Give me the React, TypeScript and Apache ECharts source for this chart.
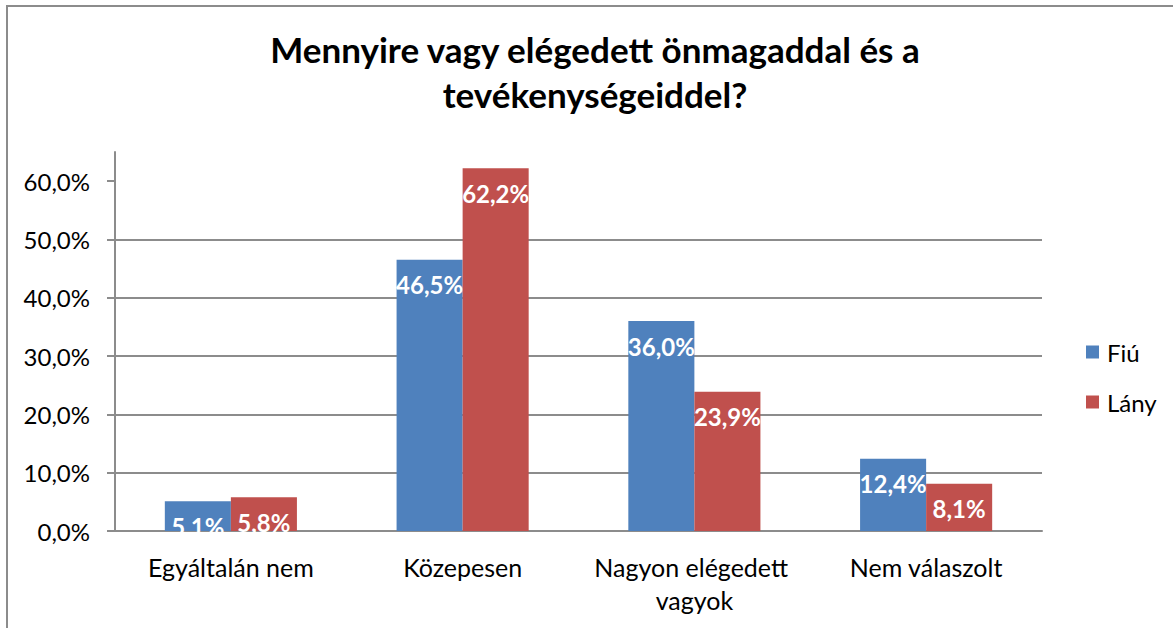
import React, { useEffect, useRef } from 'react';
import * as echarts from 'echarts';

const categories = ['Egyáltalán nem', 'Közepesen', 'Nagyon elégedett vagyok', 'Nem válaszolt'];
const seriesNames = ['Fiú', 'Lány'];
const fiuValues = [5.1, 46.5, 36.0, 12.4];
const lanyValues = [5.8, 62.2, 23.9, 8.1];
const yTicks = [0, 10, 20, 30, 40, 50, 60];
const titleText = 'Mennyire vagy elégedett önmagaddal és a\ntevékenységeiddel?';

const FONT = 'Lato, "Open Sans", sans-serif';
const GRAY = '#8c8c8c';
const fmt = (v: number) => v.toFixed(1).replace('.', ',') + '%';

export default function App() {
  const ref = useRef<HTMLDivElement>(null);
  useEffect(() => {
    if (!ref.current) return;
    const chart = echarts.init(ref.current, null, { renderer: 'svg' });
    const barLabel = {
      show: true,
      position: 'insideTop',
      distance: 13,
      color: '#ffffff',
      fontFamily: FONT,
      fontWeight: 'bold',
      fontSize: 24,
      formatter: (p: any) => fmt(p.value),
    };
    chart.setOption({
      animation: false,
      backgroundColor: '#ffffff',
      textStyle: { fontFamily: FONT },
      graphic: [
        {
          type: 'rect',
          silent: true,
          shape: { x: 7, y: 6, width: 1300, height: 800 },
          style: { fill: 'none', stroke: GRAY, lineWidth: 2 },
        },
      ],
      title: {
        text: titleText,
        left: 590,
        top: 21,
        textAlign: 'center',
        textStyle: {
          fontFamily: FONT,
          fontWeight: 'bold',
          fontSize: 35,
          lineHeight: 45,
          color: '#000000',
        },
      },
      legend: {
        orient: 'vertical',
        left: 1081,
        top: 335,
        icon: 'rect',
        itemWidth: 13,
        itemHeight: 13,
        itemGap: 26,
        data: seriesNames,
        textStyle: { fontFamily: FONT, fontSize: 24, lineHeight: 24, color: '#000000', padding: [0, 0, 0, 3] },
      },
      grid: { left: 115, right: 131, top: 152, bottom: 97, containLabel: false },
      xAxis: {
        type: 'category',
        data: categories,
        axisLine: { show: true, lineStyle: { color: GRAY, width: 2 } },
        axisTick: { show: false },
        axisLabel: {
          interval: 0,
          color: '#000000',
          fontFamily: FONT,
          fontSize: 25,
          lineHeight: 33,
          margin: 19,
          width: 215,
          overflow: 'break',
        },
      },
      yAxis: {
        type: 'value',
        min: 0,
        max: 65,
        interval: 10,
        axisLine: { show: true, lineStyle: { color: GRAY, width: 2 } },
        axisTick: { show: true, length: 8, customValues: yTicks, lineStyle: { color: GRAY, width: 2 } },
        axisLabel: {
          customValues: yTicks,
          color: '#000000',
          fontFamily: FONT,
          fontSize: 24,
          margin: 25,
          formatter: (v: number) => (v > 60 ? '' : fmt(v)),
        },
        splitLine: { show: true, showMaxLine: false, lineStyle: { color: GRAY, width: 2 } },
      },
      series: [
        {
          name: seriesNames[0],
          type: 'bar',
          data: fiuValues,
          barGap: '0%',
          barCategoryGap: '43%',
          itemStyle: { color: '#4F81BD' },
          label: barLabel,
        },
        {
          name: seriesNames[1],
          type: 'bar',
          data: lanyValues,
          barGap: '0%',
          barCategoryGap: '43%',
          itemStyle: { color: '#C0504D' },
          label: barLabel,
        },
      ],
    });
    return () => chart.dispose();
  }, []);
  return (
    <div
      ref={ref}
      style={{ position: 'fixed', left: 0, top: 0, width: 1173, height: 628 }}
    />
  );
}
